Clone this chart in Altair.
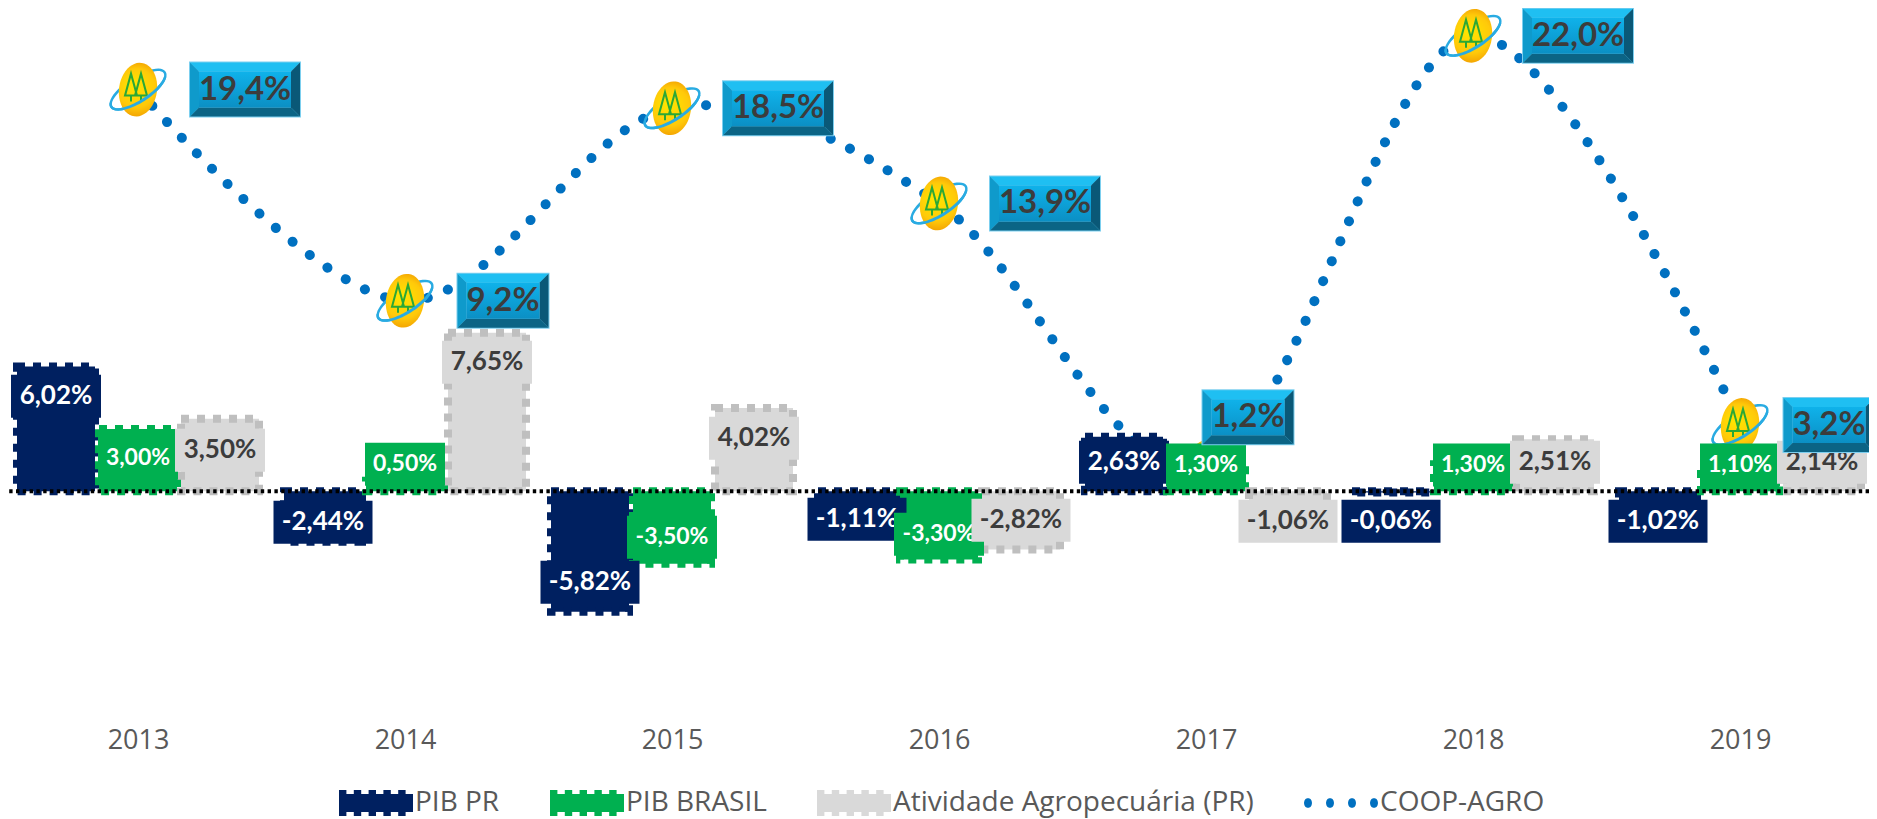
import math
import altair as alt
import pandas as pd

years = [2013, 2014, 2015, 2016, 2017, 2018, 2019]
pib_pr = [6.02, -2.44, -5.82, -1.11, 2.63, -0.06, -1.02]
pib_br = [3.00, 0.50, -3.50, -3.30, 1.30, 1.30, 1.10]
agro_pr = [3.50, 7.65, 4.02, -2.82, -1.06, 2.51, 2.14]
coop = [19.4, 9.2, 18.5, 13.9, 1.2, 22.0, 3.2]

# where each bar's data label sits (same units as the bars)
pr_label_at = [4.59, -1.50, -4.40, -1.35, 1.40, -1.45, -1.45]
br_label_at = [1.59, 1.30, -2.22, -2.08, 1.26, 1.26, 1.26]
agro_label_at = [1.98, 6.23, 2.56, -1.40, -1.45, 1.40, 1.40]

SERIES = ["PIB PR", "PIB BRASIL", "Atividade Agropecuária (PR)", "COOP-AGRO"]
NAVY, GREEN, GREY, GREY_EDGE, BLUE = "#002060", "#00B050", "#D9D9D9", "#BFBFBF", "#0070C0"
INK, AXIS_INK = "#3C3C3C", "#595959"
FONT_AXIS, FONT_LABEL = "Open Sans", "Lato"

W, H = 1861, 715
STEP = 267.0
X0 = 130.0
ZERO = 483.2
PX = 20.7
x_dom = [2013 - X0 / STEP, 2013 + (W - X0) / STEP]
y_dom = [-(H - ZERO) / PX, ZERO / PX]


def pct(v, digits):
    return f"{v:.{digits}f}%".replace(".", ",")


rows = []
for k, (name, vals, at, fill, edge, txt) in enumerate([
    (SERIES[0], pib_pr, pr_label_at, NAVY, NAVY, "white"),
    (SERIES[1], pib_br, br_label_at, GREEN, GREEN, "white"),
    (SERIES[2], agro_pr, agro_label_at, GREY, GREY_EDGE, INK),
]):
    for y, v, a in zip(years, vals, at):
        rows.append(dict(year=y, series=name, value=v, at=a, x=y + (k - 1) * 82 / STEP,
                         label=pct(v, 2), fill=fill, edge=edge, txt=txt,
                         box=(99 if v < 0 else 90) if k != 1 else (90 if v < 0 else 80)))
bars = pd.DataFrame(rows)

box_dx = [107, 98, 106, 106, 42, 105, 89]
box_up = [0, 0, 0, 0, 49, 0, 0]
line = pd.DataFrame(dict(year=years, value=coop, label=[pct(v, 1) for v in coop]))
line["bx"] = [y + d / STEP for y, d in zip(years, box_dx)]
line["by"] = [v + d / PX for v, d in zip(coop, box_up)]
line["w"] = [110 if v >= 10 else 91 for v in coop]

S = 100.0  # custom symbols are written in px / S and drawn at size (2S)^2
SYM = (2 * S) ** 2


def poly(pts, scale=S):
    return "M" + "L".join(f"{x / scale:.4f},{y / scale:.4f}" for x, y in pts) + "Z"


def ell(rx, ry, rot, t0=0.0, t1=360.0, n=48):
    r = math.radians(rot)
    out = []
    for i in range(n + 1):
        t = math.radians(t0 + (t1 - t0) * i / n)
        a, b = rx * math.cos(t), ry * math.sin(t)
        out.append((a * math.cos(r) - b * math.sin(r), a * math.sin(r) + b * math.cos(r)))
    return out


def ring(t0, t1):
    return poly(ell(33, 13, -33, t0, t1) + ell(30.5, 10, -33, t0, t1)[::-1])


egg = poly(ell(19, 27, 8))
ring_back = ring(0, 360)
ring_front = ring(20, 200)
trees = ("M{0},{1}L{2},{3}L{4},{3}Z M{5},{3}L{5},{6} M{7},{1}L{8},{3}L{9},{3}Z M{10},{3}L{10},{6}").format(
    *[round(v / S, 3) for v in (-7, -16, -13, 6, -1, -7, 12, 3, -3, 9, 3)])

XSCALE = alt.Scale(domain=x_dom, nice=False, zero=False, padding=0)
YSCALE = alt.Scale(domain=y_dom, nice=False, zero=False, padding=0)
XAXIS = alt.Axis(values=years, format="d", domain=False, ticks=False, grid=False, title=None,
                 labelFont=FONT_AXIS, labelFontSize=27, labelColor=AXIS_INK,
                 labelPadding=4, labelFlush=False, labelOverlap=False)


def xq(field):
    return alt.X(f"{field}:Q", scale=XSCALE, axis=XAXIS, title=None)


def yq(field, **kw):
    return alt.Y(f"{field}:Q", scale=YSCALE, axis=None, **kw)


X_YEAR, X_BAR, X_BOX = xq("year"), xq("x"), xq("bx")
Y_VAL, Y_AT, Y_BOX = yq("value", stack=None), yq("at"), yq("by")


def sym(path, **kw):
    return alt.Chart(line).mark_point(shape=path, size=SYM, opacity=1, **kw).encode(x=X_YEAR, y=Y_VAL)


layers = []
layers.append(alt.Chart(line).mark_line(
    interpolate="cardinal", color=BLUE, strokeWidth=10, strokeCap="round", strokeDash=[0.1, 21.6]
).encode(x=X_YEAR, y=Y_VAL))

layers.append(sym(ring_back, filled=True, fill="#29ABE2", strokeWidth=0))
layers.append(sym(egg, filled=True, strokeWidth=0, fill={
    "gradient": "radial", "x1": 0.42, "y1": 0.42, "r1": 0.05, "x2": 0.5, "y2": 0.5, "r2": 0.56,
    "stops": [{"offset": 0, "color": "#FFE300"}, {"offset": 0.6, "color": "#FFC90A"},
              {"offset": 1, "color": "#F09A00"}]}))
layers.append(sym(trees, filled=False, stroke="#2AA836", strokeWidth=2, fill="transparent"))
layers.append(sym(ring_front, filled=True, fill="#29ABE2", strokeWidth=0))

for name in SERIES[:3]:
    d = bars[bars.series == name]
    layers.append(alt.Chart(d).mark_bar(
        size=78, color=d.fill.iloc[0], stroke=d.edge.iloc[0], strokeWidth=8, strokeDash=[8, 8]
    ).encode(x=X_BAR, y=Y_VAL))

layers.append(alt.Chart(pd.DataFrame({"zero": [0]})).mark_rule(
    color="black", strokeWidth=4, strokeDash=[3.4, 3.4]
).encode(y=yq("zero")))

for name in SERIES[:3]:
    d = bars[bars.series == name]
    green = name == SERIES[1]
    for bw, g in d.groupby("box"):
        layers.append(alt.Chart(g).mark_rect(width=int(bw), height=43, color=g.fill.iloc[0]).encode(x=X_BAR, y=Y_AT))
    layers.append(alt.Chart(d).mark_text(
        font=FONT_LABEL, fontWeight="bold", fontSize=23 if green else 26, color=d.txt.iloc[0], baseline="middle"
    ).encode(x=X_BAR, y=Y_AT, text="label:N"))

for bw, g in line.groupby("w"):
    a, b, e = bw / 2, 27, 9
    ia, ib = a - e, b - e
    parts = [
        (poly([(-a - 1, -b - 1), (a + 1, -b - 1), (a + 1, b + 1), (-a - 1, b + 1)]), "#7CCFEF"),
        (poly([(-a, -b), (a, -b), (ia, -ib), (-ia, -ib)]), "#1FBFF2"),
        (poly([(-a, -b), (-ia, -ib), (-ia, ib), (-a, b)]), "#0F9ACB"),
        (poly([(a, -b), (a, b), (ia, ib), (ia, -ib)]), "#0A5877"),
        (poly([(-a, b), (-ia, ib), (ia, ib), (a, b)]), "#0B6485"),
    ]
    for path, col in parts:
        layers.append(alt.Chart(g).mark_point(shape=path, size=SYM, opacity=1, filled=True, fill=col, strokeWidth=0)
                      .encode(x=X_BOX, y=Y_BOX))
    layers.append(alt.Chart(g).mark_point(
        shape=poly([(-ia, -ib), (ia, -ib), (ia, ib), (-ia, ib)]), size=SYM, opacity=1, filled=True, strokeWidth=0,
        fill={"gradient": "linear", "x1": 0, "y1": 0, "x2": 0, "y2": 1,
              "stops": [{"offset": 0, "color": "#0FB2EA"}, {"offset": 1, "color": "#0B8FC4"}]}
    ).encode(x=X_BOX, y=Y_BOX))
layers.append(alt.Chart(line).mark_text(
    font=FONT_LABEL, fontWeight="bold", fontSize=33, color=INK, baseline="middle"
).encode(x=X_BOX, y=Y_BOX, text="label:N"))


# legend keys, 74 px wide
def crenel(sc=37.0):
    xs = [-37 + i * 74 / 10 for i in range(11)]
    top = []
    for i in range(10):
        h = 13 if i % 2 == 0 else 9
        top += [(xs[i], -h), (xs[i + 1], -h)]
    bot = [(x, -y) for x, y in top[::-1]]
    return poly(top + bot, sc)


def dots(sc=37.0):
    return " ".join(poly([(c + p[0], p[1]) for p in ell(4, 5, 0, n=14)], sc) for c in (-33, -11, 11, 33))


legend_keys = pd.DataFrame({"series": SERIES, "year": years[:4], "value": coop[:4]})
layers.append(alt.Chart(legend_keys).mark_point(filled=True, size=0, opacity=1, strokeWidth=0).encode(
    x=X_YEAR, y=Y_VAL,
    color=alt.Color("series:N", scale=alt.Scale(domain=SERIES, range=[NAVY, GREEN, GREY, BLUE]),
                    legend=alt.Legend(
                        title=None, orient="none", legendX=331, legendY=758, direction="horizontal", columns=4,
                        columnPadding=50, symbolSize=74 ** 2, symbolStrokeWidth=0, symbolOffset=0, labelOffset=2,
                        labelFont=FONT_AXIS, labelFontSize=28, labelColor=AXIS_INK, padding=0, labelLimit=500)),
    shape=alt.Shape("series:N", scale=alt.Scale(domain=SERIES, range=[crenel(), crenel(), crenel(), dots()]),
                    legend=alt.Legend(title=None)),
))

chart = alt.layer(*layers).properties(
    width=W, height=H,
    autosize=alt.AutoSizeParams(type="none"),
    padding={"left": 0, "top": 0, "right": 0, "bottom": 96},
).configure(background="white", view=alt.ViewConfig(stroke=None))

chart.save("out.html", embed_options={"renderer": "svg", "actions": False})
